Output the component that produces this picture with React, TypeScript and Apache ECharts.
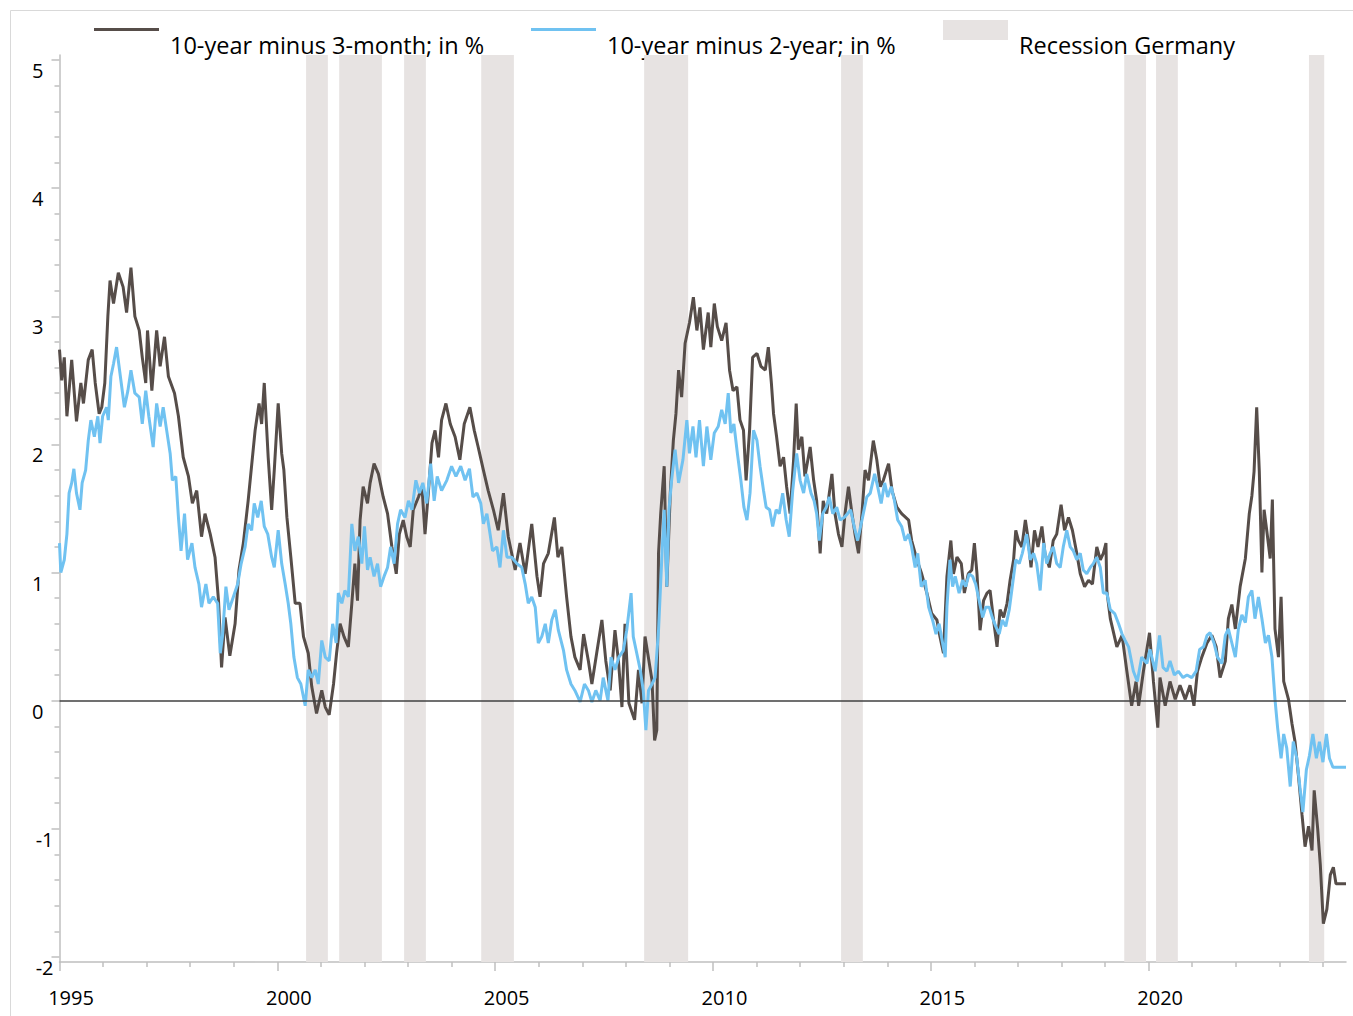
import React, { useEffect, useRef } from 'react';
import * as echarts from 'echarts';

// Spread of German government bond yields, [decimal year, % points]
const spread10y3m: [number, number][] = [
  [1995.00,2.74],[1995.05,2.50],[1995.11,2.68],[1995.17,2.22],[1995.28,2.66],[1995.39,2.18],[1995.49,2.48],[1995.55,2.32],[1995.66,2.66],[1995.75,2.74],[1995.82,2.48],[1995.91,2.24],[1995.97,2.29],
  [1996.04,2.48],[1996.11,3.00],[1996.16,3.28],[1996.24,3.10],[1996.35,3.34],[1996.46,3.23],[1996.54,3.03],[1996.64,3.38],[1996.73,3.00],[1996.83,2.89],[1996.90,2.68],[1996.98,2.48],
  [1997.02,2.89],[1997.12,2.42],[1997.23,2.89],[1997.31,2.61],[1997.41,2.84],[1997.50,2.53],[1997.64,2.40],[1997.73,2.22],[1997.84,1.90],[1997.96,1.75],
  [1998.05,1.54],[1998.15,1.64],[1998.26,1.28],[1998.34,1.46],[1998.46,1.30],[1998.57,1.12],[1998.65,0.78],[1998.72,0.26],[1998.80,0.65],[1998.91,0.35],
  [1999.03,0.60],[1999.12,1.02],[1999.22,1.23],[1999.33,1.56],[1999.49,2.11],[1999.58,2.32],[1999.64,2.16],[1999.70,2.48],[1999.79,1.90],[1999.87,1.49],[1999.93,1.80],
  [2000.02,2.32],[2000.10,1.93],[2000.15,1.80],[2000.22,1.43],[2000.31,1.12],[2000.41,0.76],[2000.52,0.76],[2000.60,0.50],[2000.71,0.37],[2000.79,0.11],[2000.90,-0.10],
  [2001.02,0.08],[2001.10,-0.05],[2001.19,-0.11],[2001.29,0.13],[2001.36,0.37],[2001.44,0.60],[2001.53,0.50],[2001.63,0.42],[2001.71,0.76],[2001.78,1.07],[2001.84,0.78],[2001.90,1.41],[2001.97,1.67],
  [2002.07,1.54],[2002.13,1.70],[2002.22,1.85],[2002.32,1.77],[2002.43,1.59],[2002.53,1.46],[2002.63,1.20],[2002.73,0.99],[2002.80,1.30],[2002.89,1.41],[2002.97,1.28],
  [2003.05,1.20],[2003.12,1.49],[2003.24,1.59],[2003.32,1.67],[2003.39,1.30],[2003.47,1.64],[2003.55,2.01],[2003.62,2.11],[2003.70,1.90],[2003.77,2.19],[2003.87,2.32],[2003.97,2.16],
  [2004.08,2.06],[2004.19,1.88],[2004.29,2.16],[2004.42,2.29],[2004.52,2.11],[2004.61,1.98],[2004.73,1.80],[2004.84,1.64],[2004.96,1.49],
  [2005.07,1.33],[2005.19,1.62],[2005.30,1.28],[2005.46,1.02],[2005.57,1.23],[2005.69,0.99],[2005.84,1.38],[2005.96,0.97],
  [2006.03,0.81],[2006.11,1.07],[2006.22,1.15],[2006.36,1.43],[2006.44,1.12],[2006.53,1.20],[2006.64,0.81],[2006.74,0.50],[2006.83,0.34],[2006.95,0.24],
  [2007.03,0.52],[2007.14,0.31],[2007.22,0.13],[2007.33,0.37],[2007.45,0.63],[2007.54,0.31],[2007.64,0.08],[2007.75,0.55],[2007.83,0.31],[2007.91,-0.05],[2007.98,0.60],
  [2008.07,-0.02],[2008.20,-0.15],[2008.29,0.24],[2008.37,-0.02],[2008.44,0.50],[2008.53,0.31],[2008.60,0.16],[2008.66,-0.31],[2008.71,-0.23],[2008.75,1.15],[2008.80,1.46],[2008.88,1.83],[2008.94,0.89],
  [2009.02,1.62],[2009.09,2.03],[2009.15,2.24],[2009.21,2.58],[2009.28,2.37],[2009.36,2.79],[2009.46,2.95],[2009.55,3.15],[2009.63,2.89],[2009.70,3.07],[2009.78,2.74],[2009.89,3.03],[2009.95,2.76],
  [2010.03,3.10],[2010.10,2.92],[2010.20,2.81],[2010.30,2.95],[2010.38,2.58],[2010.46,2.42],[2010.55,2.45],[2010.62,2.19],[2010.70,2.11],[2010.76,1.72],[2010.84,2.11],[2010.91,2.68],
  [2011.01,2.71],[2011.10,2.61],[2011.20,2.58],[2011.27,2.76],[2011.34,2.48],[2011.39,2.24],[2011.46,2.06],[2011.54,1.83],[2011.62,1.90],[2011.69,1.67],[2011.77,1.46],[2011.85,1.88],[2011.91,2.32],[2011.96,1.96],
  [2012.04,2.06],[2012.11,1.75],[2012.23,1.98],[2012.31,1.72],[2012.38,1.56],[2012.46,1.15],[2012.53,1.56],[2012.61,1.46],[2012.67,1.62],[2012.73,1.77],[2012.80,1.46],[2012.88,1.30],[2012.96,1.20],
  [2013.03,1.46],[2013.11,1.67],[2013.19,1.46],[2013.26,1.30],[2013.34,1.15],[2013.42,1.46],[2013.49,1.80],[2013.57,1.72],[2013.68,2.03],[2013.76,1.88],[2013.84,1.67],[2013.91,1.72],
  [2014.03,1.85],[2014.11,1.64],[2014.22,1.51],[2014.33,1.46],[2014.49,1.41],[2014.56,1.25],[2014.68,1.10],[2014.79,0.99],[2014.91,0.84],
  [2015.02,0.68],[2015.14,0.63],[2015.21,0.50],[2015.29,0.37],[2015.37,0.97],[2015.46,1.25],[2015.52,0.99],[2015.60,1.12],[2015.70,1.07],[2015.77,0.84],[2015.86,0.99],[2015.94,1.02],
  [2016.00,1.23],[2016.06,0.99],[2016.13,0.55],[2016.21,0.78],[2016.29,0.84],[2016.36,0.86],[2016.44,0.63],[2016.52,0.42],[2016.59,0.71],[2016.67,0.65],[2016.75,0.76],[2016.82,0.94],[2016.90,1.10],[2016.95,1.33],
  [2017.01,1.25],[2017.09,1.20],[2017.17,1.41],[2017.24,1.25],[2017.30,1.04],[2017.38,1.33],[2017.46,1.20],[2017.55,1.36],[2017.62,1.15],[2017.72,1.04],[2017.81,1.25],[2017.89,1.30],[2017.99,1.53],
  [2018.07,1.33],[2018.16,1.43],[2018.25,1.33],[2018.35,1.15],[2018.43,0.99],[2018.53,0.89],[2018.62,0.94],[2018.71,0.91],[2018.81,1.20],[2018.89,1.10],[2018.96,1.15],
  [2019.02,1.23],[2019.04,0.86],[2019.12,0.64],[2019.27,0.42],[2019.39,0.51],[2019.50,0.23],[2019.61,-0.04],[2019.71,0.15],[2019.77,-0.04],[2019.88,0.23],
  [2020.02,0.53],[2020.11,0.15],[2020.21,-0.21],[2020.26,0.18],[2020.38,-0.04],[2020.49,0.15],[2020.61,0.01],[2020.72,0.12],[2020.84,0.01],[2020.95,0.12],
  [2021.04,-0.04],[2021.12,0.23],[2021.22,0.34],[2021.34,0.45],[2021.45,0.51],[2021.55,0.42],[2021.64,0.18],[2021.76,0.31],[2021.83,0.64],[2021.91,0.75],[2021.99,0.56],
  [2022.10,0.89],[2022.22,1.11],[2022.31,1.46],[2022.37,1.60],[2022.42,1.79],[2022.48,2.29],[2022.54,1.79],[2022.60,1.00],[2022.65,1.49],[2022.71,1.33],[2022.79,1.11],[2022.84,1.57],[2022.90,0.56],[2022.98,0.34],
  [2023.04,0.81],[2023.10,0.15],[2023.21,0.01],[2023.29,-0.18],[2023.36,-0.32],[2023.44,-0.59],[2023.52,-0.89],[2023.59,-1.14],[2023.67,-0.98],[2023.75,-1.17],[2023.80,-0.70],[2023.88,-1.00],[2023.94,-1.28],
  [2024.01,-1.74],[2024.09,-1.63],[2024.17,-1.36],[2024.24,-1.30],[2024.30,-1.43],[2024.53,-1.43]
];

const spread10y2y: [number, number][] = [
  [1995.00,1.23],[1995.03,1.00],[1995.11,1.10],[1995.17,1.30],[1995.22,1.62],[1995.28,1.70],[1995.33,1.81],[1995.39,1.62],[1995.47,1.49],[1995.52,1.70],[1995.60,1.80],[1995.66,2.03],[1995.72,2.19],[1995.80,2.06],[1995.88,2.22],[1995.93,2.01],[1995.99,2.22],
  [1996.08,2.29],[1996.12,2.19],[1996.18,2.53],[1996.24,2.63],[1996.31,2.76],[1996.39,2.55],[1996.49,2.29],[1996.57,2.42],[1996.64,2.58],[1996.73,2.40],[1996.83,2.37],[1996.90,2.16],[1996.98,2.42],
  [1997.05,2.22],[1997.15,1.98],[1997.23,2.32],[1997.31,2.14],[1997.38,2.29],[1997.46,2.11],[1997.54,1.93],[1997.59,1.72],[1997.67,1.75],[1997.73,1.43],[1997.79,1.17],[1997.87,1.46],[1997.94,1.10],
  [1998.04,1.23],[1998.11,1.04],[1998.20,0.91],[1998.26,0.73],[1998.36,0.91],[1998.43,0.76],[1998.53,0.81],[1998.63,0.76],[1998.69,0.37],[1998.74,0.50],[1998.82,0.89],[1998.89,0.71],[1998.99,0.81],
  [1999.09,0.91],[1999.17,1.07],[1999.26,1.20],[1999.33,1.38],[1999.41,1.33],[1999.47,1.54],[1999.55,1.43],[1999.63,1.56],[1999.70,1.36],[1999.78,1.30],[1999.87,1.12],[1999.93,1.04],
  [2000.02,1.33],[2000.10,1.07],[2000.18,0.91],[2000.25,0.76],[2000.31,0.60],[2000.38,0.34],[2000.46,0.18],[2000.54,0.13],[2000.64,-0.04],[2000.71,0.24],[2000.79,0.18],[2000.87,0.24],[2000.94,0.13],
  [2001.02,0.47],[2001.10,0.34],[2001.19,0.31],[2001.27,0.60],[2001.35,0.45],[2001.40,0.84],[2001.48,0.76],[2001.55,0.86],[2001.63,0.81],[2001.71,1.38],[2001.78,1.17],[2001.86,1.28],[2001.94,1.07],
  [2002.00,1.36],[2002.07,1.02],[2002.13,1.12],[2002.22,0.97],[2002.30,1.07],[2002.37,0.89],[2002.45,0.97],[2002.53,1.04],[2002.60,1.20],[2002.68,1.07],[2002.76,1.38],[2002.83,1.49],[2002.93,1.43],
  [2003.01,1.56],[2003.09,1.49],[2003.18,1.72],[2003.26,1.62],[2003.34,1.70],[2003.43,1.54],[2003.52,1.85],[2003.60,1.56],[2003.67,1.75],[2003.77,1.64],[2003.89,1.72],
  [2004.00,1.83],[2004.10,1.75],[2004.21,1.83],[2004.31,1.72],[2004.41,1.81],[2004.49,1.59],[2004.58,1.62],[2004.67,1.54],[2004.73,1.38],[2004.81,1.46],[2004.87,1.33],[2004.94,1.17],
  [2005.04,1.20],[2005.11,1.04],[2005.19,1.33],[2005.27,1.12],[2005.38,1.12],[2005.50,1.07],[2005.61,1.04],[2005.69,0.91],[2005.76,0.76],[2005.84,0.81],[2005.92,0.73],[2005.99,0.45],
  [2006.07,0.50],[2006.15,0.60],[2006.22,0.45],[2006.30,0.63],[2006.38,0.71],[2006.45,0.55],[2006.57,0.39],[2006.64,0.24],[2006.74,0.13],[2006.83,0.08],[2006.95,-0.01],
  [2007.05,0.13],[2007.14,0.08],[2007.22,-0.01],[2007.31,0.08],[2007.41,0.00],[2007.48,0.18],[2007.59,0.00],[2007.66,0.34],[2007.75,0.24],[2007.84,0.34],[2007.94,0.39],
  [2008.02,0.55],[2008.12,0.84],[2008.17,0.50],[2008.25,0.37],[2008.33,0.24],[2008.40,0.08],[2008.46,-0.23],[2008.52,0.08],[2008.60,0.13],[2008.67,0.18],[2008.75,0.55],[2008.83,1.15],[2008.88,1.49],[2008.94,0.89],[2008.99,1.49],
  [2009.05,1.72],[2009.13,1.96],[2009.21,1.70],[2009.31,1.88],[2009.40,2.19],[2009.46,1.93],[2009.54,2.14],[2009.61,1.90],[2009.69,2.19],[2009.78,1.83],[2009.86,2.14],[2009.95,1.88],
  [2010.03,2.09],[2010.12,2.14],[2010.20,2.27],[2010.28,2.16],[2010.35,2.40],[2010.41,2.09],[2010.48,2.16],[2010.56,1.93],[2010.64,1.72],[2010.71,1.51],[2010.78,1.41],[2010.85,1.62],[2010.93,2.11],
  [2011.01,2.03],[2011.08,1.83],[2011.16,1.64],[2011.22,1.51],[2011.30,1.49],[2011.37,1.36],[2011.45,1.49],[2011.52,1.46],[2011.60,1.62],[2011.68,1.41],[2011.75,1.28],[2011.83,1.64],[2011.92,1.93],
  [2012.00,1.72],[2012.08,1.62],[2012.15,1.77],[2012.25,1.62],[2012.32,1.56],[2012.38,1.46],[2012.44,1.25],[2012.52,1.46],[2012.60,1.51],[2012.67,1.59],[2012.75,1.46],[2012.84,1.51],[2012.92,1.41],
  [2013.01,1.43],[2013.09,1.46],[2013.16,1.49],[2013.24,1.36],[2013.32,1.25],[2013.42,1.41],[2013.53,1.59],[2013.61,1.62],[2013.71,1.77],[2013.78,1.67],[2013.86,1.54],[2013.94,1.70],
  [2014.01,1.59],[2014.09,1.67],[2014.16,1.57],[2014.24,1.41],[2014.33,1.36],[2014.41,1.25],[2014.49,1.30],[2014.56,1.20],[2014.64,1.04],[2014.70,1.15],[2014.78,0.89],[2014.87,0.94],[2014.95,0.73],
  [2015.04,0.63],[2015.12,0.52],[2015.19,0.60],[2015.27,0.45],[2015.33,0.34],[2015.37,0.73],[2015.44,1.10],[2015.50,0.89],[2015.56,0.97],[2015.65,0.84],[2015.73,0.94],[2015.80,0.89],[2015.88,0.99],[2015.96,0.97],
  [2016.03,0.91],[2016.11,0.78],[2016.19,0.65],[2016.26,0.73],[2016.34,0.73],[2016.41,0.65],[2016.49,0.58],[2016.57,0.52],[2016.64,0.63],[2016.72,0.58],[2016.80,0.71],[2016.87,0.89],[2016.95,1.10],
  [2017.03,1.07],[2017.10,1.15],[2017.20,1.30],[2017.28,1.10],[2017.36,1.15],[2017.43,1.07],[2017.51,0.86],[2017.59,1.23],[2017.66,1.07],[2017.74,1.15],[2017.81,1.20],[2017.89,1.07],[2017.97,1.04],
  [2018.04,1.20],[2018.12,1.33],[2018.20,1.20],[2018.27,1.17],[2018.35,1.10],[2018.43,1.15],[2018.50,1.02],[2018.58,0.99],[2018.66,1.04],[2018.73,1.07],[2018.81,1.12],[2018.89,1.04],[2018.96,0.84],
  [2019.04,0.84],[2019.12,0.71],[2019.22,0.68],[2019.31,0.60],[2019.39,0.52],[2019.46,0.47],[2019.54,0.42],[2019.65,0.23],[2019.74,0.15],[2019.84,0.34],[2019.96,0.29],
  [2020.03,0.40],[2020.15,0.23],[2020.25,0.51],[2020.33,0.26],[2020.42,0.23],[2020.49,0.31],[2020.59,0.20],[2020.68,0.23],[2020.79,0.18],[2020.88,0.20],[2020.99,0.18],
  [2021.09,0.23],[2021.17,0.40],[2021.26,0.42],[2021.34,0.51],[2021.41,0.53],[2021.50,0.45],[2021.58,0.34],[2021.68,0.29],[2021.76,0.51],[2021.83,0.56],[2021.91,0.45],[2021.99,0.34],
  [2022.06,0.56],[2022.14,0.67],[2022.22,0.61],[2022.29,0.81],[2022.37,0.86],[2022.44,0.64],[2022.52,0.81],[2022.60,0.64],[2022.68,0.45],[2022.75,0.51],[2022.83,0.34],[2022.90,0.01],[2022.96,-0.21],
  [2023.04,-0.45],[2023.10,-0.26],[2023.17,-0.37],[2023.25,-0.67],[2023.32,-0.32],[2023.40,-0.45],[2023.48,-0.70],[2023.54,-0.87],[2023.62,-0.54],[2023.69,-0.43],[2023.77,-0.26],[2023.85,-0.45],[2023.92,-0.32],
  [2024.00,-0.48],[2024.08,-0.26],[2024.15,-0.45],[2024.23,-0.52],[2024.53,-0.52]
];

// Recession periods in Germany (decimal years)
const recessionStarts = [2000.66, 2001.42, 2002.91, 2004.68, 2008.42, 2012.94, 2019.44, 2020.17, 2023.68];
const recessionEnds = [2001.16, 2002.40, 2003.41, 2005.43, 2009.43, 2013.44, 2019.94, 2020.67, 2024.03];

// Axis ticks
const xMajorTicks = [1995, 2000, 2005, 2010, 2015, 2020];
const xMinorTicks = [1996, 1997, 1998, 1999, 2001, 2002, 2003, 2004, 2006, 2007, 2008, 2009, 2011, 2012, 2013, 2014, 2016, 2017, 2018, 2019, 2021, 2022, 2023, 2024];
const yMajorTicks = [-2, -1, 0, 1, 2, 3, 4, 5];
const yMinorTicks = [-1.8, -1.6, -1.4, -1.2, -0.8, -0.6, -0.4, -0.2, 0.2, 0.4, 0.6, 0.8, 1.2, 1.4, 1.6, 1.8, 2.2, 2.4, 2.6, 2.8, 3.2, 3.4, 3.6, 3.8, 4.2, 4.4, 4.6, 4.8];

const seriesNames = ['10-year minus 3-month; in %', '10-year minus 2-year; in %'];
const recessionLabel = 'Recession Germany';

const DARK = '#564D49';
const BLUE = '#70C2F1';
const BAND = '#E7E3E2';
const AXIS = '#BFBFBF';
const FONT = "'Open Sans', sans-serif";

export default function App() {
  const ref = useRef<HTMLDivElement>(null);

  useEffect(() => {
    if (!ref.current) return;
    const chart = echarts.init(ref.current, undefined, { renderer: 'svg' });
    const xMin = 1995;
    const xMax = 2024.53;
    const yMin = -2.04;
    const yMax = 5.04;

    const option: any = {
      animation: false,
      backgroundColor: '#ffffff',
      grid: { left: 59.5, right: 7, top: 55, bottom: 54, containLabel: false },
      xAxis: [
        {
          type: 'value', min: xMin, max: xMax, position: 'bottom',
          axisLine: { show: true, onZero: false, lineStyle: { color: AXIS, width: 1.5 } },
          axisTick: { show: true, customValues: xMajorTicks, length: 9, lineStyle: { color: AXIS, width: 1.5 } },
          axisLabel: {
            customValues: xMajorTicks,
            formatter: (v: number) => String(Math.round(v)),
            fontFamily: FONT, fontSize: 20, color: '#000', margin: 25, padding: [0, 0, 0, 23],
          },
          splitLine: { show: false },
        },
        {
          type: 'value', min: xMin, max: xMax, position: 'bottom', offset: 0,
          axisLine: { show: false, onZero: false },
          axisTick: { show: true, customValues: xMinorTicks, length: 5, lineStyle: { color: AXIS, width: 1.5 } },
          axisLabel: { show: false },
          splitLine: { show: false },
        },
      ],
      yAxis: [
        {
          type: 'value', min: yMin, max: yMax, position: 'left',
          axisLine: { show: true, onZero: false, lineStyle: { color: AXIS, width: 1.5 } },
          axisTick: { show: true, customValues: yMajorTicks, length: 8, lineStyle: { color: AXIS, width: 1.5 } },
          axisLabel: {
            customValues: yMajorTicks,
            margin: 6,
            formatter: (v: number) => (v >= 0 ? `{p|${v}}` : `{n|${v}}`),
            rich: {
              p: { fontFamily: FONT, fontSize: 20, color: '#000', padding: [21, 10, 0, 0] },
              n: { fontFamily: FONT, fontSize: 20, color: '#000', padding: [21, 0, 0, 0] },
            },
          },
          splitLine: { show: false },
        },
        {
          type: 'value', min: yMin, max: yMax, position: 'left', offset: 0,
          axisLine: { show: false, onZero: false },
          axisTick: { show: true, customValues: yMinorTicks, length: 5, lineStyle: { color: AXIS, width: 1.5 } },
          axisLabel: { show: false },
          splitLine: { show: false },
        },
      ],
      series: [
        {
          name: recessionLabel,
          type: 'line',
          data: [],
          z: 1,
          silent: true,
          markArea: {
            silent: true,
            itemStyle: { color: BAND },
            data: recessionStarts.map((s, i) => [{ xAxis: s }, { xAxis: recessionEnds[i] }]),
          },
        },
        {
          name: 'zero',
          type: 'line',
          data: [],
          z: 2,
          silent: true,
          markLine: {
            silent: true,
            symbol: 'none',
            label: { show: false },
            lineStyle: { color: '#404040', width: 1.5, type: 'solid' },
            data: [{ yAxis: 0 }],
          },
        },
        {
          name: seriesNames[0],
          type: 'line',
          data: spread10y3m,
          showSymbol: false,
          symbol: 'none',
          z: 3,
          lineStyle: { color: DARK, width: 3 },
          itemStyle: { color: DARK },
        },
        {
          name: seriesNames[1],
          type: 'line',
          data: spread10y2y,
          showSymbol: false,
          symbol: 'none',
          z: 4,
          lineStyle: { color: BLUE, width: 3 },
          itemStyle: { color: BLUE },
        },
      ],
      graphic: [
        {
          type: 'rect', silent: true, z: -10,
          shape: { x: 10.5, y: 10.5, width: 1360, height: 1030 },
          style: { fill: 'transparent', stroke: '#D9D9D9', lineWidth: 1 },
        },
        { type: 'line', silent: true, shape: { x1: 94, y1: 29.5, x2: 159, y2: 29.5 }, style: { stroke: DARK, lineWidth: 3 } },
        {
          type: 'text', silent: true, x: 170, y: 45,
          style: { text: seriesNames[0], fontFamily: FONT, fontSize: 23.5, fill: '#000', verticalAlign: 'middle', align: 'left' },
        },
        { type: 'line', silent: true, shape: { x1: 531, y1: 29.5, x2: 596, y2: 29.5 }, style: { stroke: BLUE, lineWidth: 3 } },
        {
          type: 'text', silent: true, x: 607, y: 45,
          style: { text: seriesNames[1], fontFamily: FONT, fontSize: 23.5, fill: '#000', verticalAlign: 'middle', align: 'left' },
        },
        { type: 'rect', silent: true, shape: { x: 943, y: 20, width: 65, height: 20 }, style: { fill: BAND } },
        {
          type: 'text', silent: true, x: 1019, y: 45,
          style: { text: recessionLabel, fontFamily: FONT, fontSize: 23.5, fill: '#000', verticalAlign: 'middle', align: 'left' },
        },
      ],
    };

    chart.setOption(option);
    return () => {
      chart.dispose();
    };
  }, []);

  return (
    <div
      ref={ref}
      style={{ position: 'fixed', left: 0, top: 0, width: 1353, height: 1016, background: '#fff' }}
    />
  );
}
